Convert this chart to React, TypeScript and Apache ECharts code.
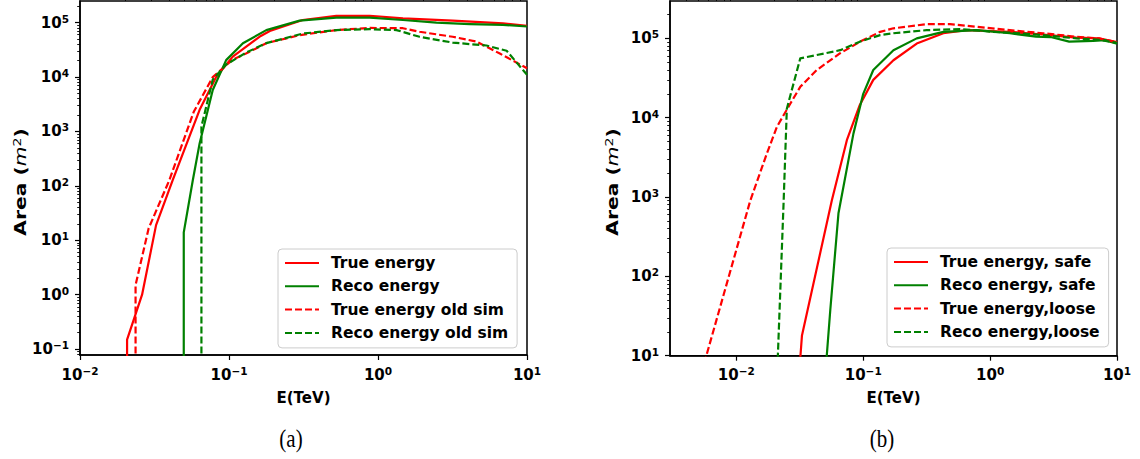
import React, { useEffect, useRef } from "react";
import * as echarts from "echarts";

// ---------- Panel (a) data: [E (TeV), Area (m^2)] ----------
const trueEnergyA: number[][] = [
  [0.0207, 0.01], [0.0207, 0.15], [0.0261, 1.0], [0.0324, 19], [0.0419, 128],
  [0.0635, 2500], [0.082, 1.0e4], [0.106, 2.37e4], [0.16, 5.5e4], [0.188, 7.0e4],
  [0.312, 1.12e5], [0.525, 1.33e5], [0.88, 1.34e5], [1.47, 1.2e5], [3.17, 1.09e5],
  [6.9, 9.7e4], [10, 8.7e4],
];
const recoEnergyA: number[][] = [
  [0.0497, 0.01], [0.0497, 14], [0.0572, 128], [0.0635, 600], [0.0778, 5800],
  [0.0957, 2.05e4], [0.124, 4.18e4], [0.178, 7.3e4], [0.298, 1.09e5], [0.525, 1.24e5],
  [0.88, 1.24e5], [1.47, 1.12e5], [2.47, 1.0e5], [4.13, 9.4e4], [6.9, 9.1e4], [10, 8.5e4],
];
const trueOldA: number[][] = [
  [0.0236, 0.01], [0.0236, 1.5], [0.0289, 16.6], [0.0398, 128], [0.058, 2300],
  [0.0778, 1.0e4], [0.106, 2.1e4], [0.13, 2.7e4], [0.178, 4.2e4], [0.298, 5.9e4],
  [0.525, 7.3e4], [0.88, 8.0e4], [1.47, 7.9e4], [1.9, 6.8e4], [3.17, 5.5e4],
  [4.58, 4.5e4], [6.57, 2.7e4], [10, 1.45e4],
];
const recoOldA: number[][] = [
  [0.0653, 0.01], [0.0653, 1230], [0.0778, 9000], [0.0957, 1.7e4], [0.13, 2.8e4],
  [0.178, 4.2e4], [0.313, 6.3e4], [0.525, 7.3e4], [0.88, 7.6e4], [1.33, 7.3e4],
  [1.9, 5.5e4], [3.17, 4.3e4], [5.35, 3.8e4], [7.3, 3.05e4], [10, 1.1e4],
];

// ---------- Panel (b) data ----------
const trueSafeB: number[][] = [
  [0.031, 5], [0.0329, 18], [0.0566, 910], [0.0743, 5200], [0.094, 1.45e4],
  [0.12, 3.0e4], [0.173, 5.3e4], [0.264, 8.6e4], [0.428, 1.16e5], [0.653, 1.27e5],
  [1.43, 1.21e5], [2.62, 1.12e5], [4.79, 1.02e5], [7.2, 1.0e5], [10, 9.0e4],
];
const recoSafeB: number[][] = [
  [0.0499, 5], [0.055, 37.7], [0.0638, 624], [0.0837, 6300], [0.1, 2.0e4],
  [0.12, 4.0e4], [0.173, 7.1e4], [0.264, 1.0e5], [0.428, 1.21e5], [0.784, 1.27e5],
  [1.43, 1.16e5], [2.3, 1.05e5], [3.0, 1.04e5], [4.2, 9.1e4], [6.5, 9.3e4],
  [8, 9.5e4], [10, 8.6e4],
];
const trueLooseB: number[][] = [
  [0.0056, 8], [0.0059, 11], [0.0129, 910], [0.0174, 3540], [0.0209, 7700],
  [0.0266, 1.5e4], [0.0319, 2.45e4], [0.0431, 4.0e4], [0.0658, 6.5e4], [0.0946, 9.1e4],
  [0.136, 1.21e5], [0.173, 1.34e5], [0.316, 1.51e5], [0.483, 1.51e5], [0.784, 1.4e5],
  [1.43, 1.27e5], [2.62, 1.16e5], [4.79, 1.05e5], [7.2, 1.0e5], [10, 8.9e4],
];
const recoLooseB: number[][] = [
  [0.0209, 5], [0.0236, 900], [0.025, 1.3e4], [0.0319, 5.6e4], [0.0658, 7.1e4],
  [0.094, 9.1e4], [0.136, 1.1e5], [0.173, 1.16e5], [0.316, 1.27e5], [0.58, 1.31e5],
  [1.05, 1.21e5], [1.43, 1.18e5], [2.62, 1.1e5], [4.79, 1.0e5], [7.2, 9.6e4], [10, 8.8e4],
];

// ---------- Names / ticks ----------
const namesA = ["True energy", "Reco energy", "True energy old sim", "Reco energy old sim"];
const namesB = ["True energy, safe", "Reco energy, safe", "True energy,loose", "Reco energy,loose"];
const xMajorA = [0.01, 0.1, 1, 10];
const yMajorA = [0.1, 1, 10, 100, 1000, 1e4, 1e5];
const xMajorB = [0.01, 0.1, 1, 10];
const yMajorB = [10, 100, 1000, 1e4, 1e5];
const rangeXA = [0.01, 10];
const rangeYA = [0.078, 2.5e5];
const rangeXB = [0.003, 10];
const rangeYB = [10, 2.96e5];

const FONT = "'DejaVu Sans', sans-serif";
const RED = "#ff0000";
const GREEN = "#008000";

function minorTicks(lo: number, hi: number): number[] {
  const out: number[] = [];
  for (let k = Math.floor(Math.log10(lo)) - 1; k <= Math.ceil(Math.log10(hi)); k++) {
    for (let m = 2; m <= 9; m++) {
      const v = m * Math.pow(10, k);
      if (v >= lo * 1.0000001 && v <= hi / 1.0000001) out.push(v);
    }
  }
  return out;
}

function decadeLabel(v: number): string {
  const e = Math.round(Math.log10(v));
  const s = e < 0 ? "\u2212" + -e : String(e);
  return `{b|10}{s|${s}}`;
}

const labelRich = {
  b: { fontFamily: FONT, fontWeight: "bold", fontSize: 15, color: "#000", lineHeight: 19 },
  s: { fontFamily: FONT, fontWeight: "bold", fontSize: 10.5, color: "#000", lineHeight: 19, verticalAlign: "top" },
};

const nameRich = {
  b: { fontFamily: FONT, fontWeight: "bold", fontSize: 15, color: "#000", lineHeight: 19 },
  i: { fontFamily: FONT, fontStyle: "italic", fontWeight: "normal", fontSize: 15, color: "#000", lineHeight: 19 },
  s: { fontFamily: FONT, fontStyle: "normal", fontWeight: "normal", fontSize: 10.5, color: "#000", lineHeight: 19, verticalAlign: "top" },
};

function majorX(grid: number, range: number[], ticks: number[]) {
  return {
    type: "log", logBase: 10, gridIndex: grid, min: range[0], max: range[1],
    axisLine: { show: true, onZero: false, lineStyle: { color: "#000", width: 1.5 } },
    axisTick: { show: true, length: 5, lineStyle: { color: "#000", width: 1.2 }, customValues: ticks },
    axisLabel: { customValues: ticks, formatter: decadeLabel, rich: labelRich, margin: 10 },
    minorTick: { show: false }, splitLine: { show: false },
    name: "E(TeV)", nameLocation: "middle", nameGap: 35,
    nameTextStyle: { fontFamily: FONT, fontWeight: "bold", fontSize: 15, color: "#000" },
  };
}
function minorX(grid: number, range: number[]) {
  return {
    type: "log", logBase: 10, gridIndex: grid, min: range[0], max: range[1],
    axisLine: { show: false },
    axisTick: { show: true, length: 2.8, lineStyle: { color: "#000", width: 0.9 }, customValues: minorTicks(range[0], range[1]) },
    axisLabel: { show: false }, splitLine: { show: false }, minorTick: { show: false },
  };
}
function majorY(grid: number, range: number[], ticks: number[]) {
  return {
    type: "log", logBase: 10, gridIndex: grid, min: range[0], max: range[1], position: "left",
    axisLine: { show: true, onZero: false, lineStyle: { color: "#000", width: 1.5 } },
    axisTick: { show: true, length: 5, lineStyle: { color: "#000", width: 1.2 }, customValues: ticks },
    axisLabel: { customValues: ticks, formatter: decadeLabel, rich: labelRich, margin: 11 },
    minorTick: { show: false }, splitLine: { show: false },
  };
}
function minorY(grid: number, range: number[]) {
  return {
    type: "log", logBase: 10, gridIndex: grid, min: range[0], max: range[1], position: "left",
    axisLine: { show: false },
    axisTick: { show: true, length: 2.8, lineStyle: { color: "#000", width: 0.9 }, customValues: minorTicks(range[0], range[1]) },
    axisLabel: { show: false }, splitLine: { show: false }, minorTick: { show: false },
  };
}

function line(name: string, data: number[][], color: string, dashed: boolean, axis: number) {
  return {
    type: "line", name, data, xAxisIndex: axis, yAxisIndex: axis,
    symbol: "none", showSymbol: false, clip: true, smooth: false,
    lineStyle: { color, width: 2.2, type: dashed ? [7, 3] : "solid", cap: "butt", join: "round" },
    itemStyle: { color },
    emphasis: { disabled: true },
    z: 3,
  };
}

function legend(left: number, top: number, names: string[]) {
  return {
    left, top, orient: "vertical", data: names,
    itemWidth: 34, itemHeight: 14, itemGap: 5.3,
    padding: [5, 9, 6, 6],
    borderColor: "#cccccc", borderWidth: 1, borderRadius: 4,
    backgroundColor: "rgba(255,255,255,0.85)",
    selectedMode: false,
    itemStyle: { opacity: 0, borderWidth: 0 },
    textStyle: { fontFamily: FONT, fontWeight: "bold", fontSize: 15.5, color: "#000", lineHeight: 18, padding: [0, 0, 0, 7] },
  };
}

export default function App() {
  const ref = useRef<HTMLDivElement>(null);
  useEffect(() => {
    document.body.style.margin = "0";
    if (!ref.current) return;
    const chart = echarts.init(ref.current, undefined, { renderer: "svg" });
    chart.setOption({
      animation: false,
      backgroundColor: "#fff",
      grid: [
        { left: 80, top: 1, width: 447, height: 354, show: true, borderColor: "#000", borderWidth: 1.5, backgroundColor: "transparent" },
        { left: 670, top: 1, width: 447, height: 354.7, show: true, borderColor: "#000", borderWidth: 1.5, backgroundColor: "transparent" },
      ],
      xAxis: [majorX(0, rangeXA, xMajorA), majorX(1, rangeXB, xMajorB), minorX(0, rangeXA), minorX(1, rangeXB)],
      yAxis: [majorY(0, rangeYA, yMajorA), majorY(1, rangeYB, yMajorB), minorY(0, rangeYA), minorY(1, rangeYB)],
      legend: [legend(278, 249, namesA), legend(887, 248, namesB)],
      series: [
        line(namesA[0], trueEnergyA, RED, false, 0),
        line(namesA[1], recoEnergyA, GREEN, false, 0),
        line(namesA[2], trueOldA, RED, true, 0),
        line(namesA[3], recoOldA, GREEN, true, 0),
        line(namesB[0], trueSafeB, RED, false, 1),
        line(namesB[1], recoSafeB, GREEN, false, 1),
        line(namesB[2], trueLooseB, RED, true, 1),
        line(namesB[3], recoLooseB, GREEN, true, 1),
      ],
      graphic: [
        {
          type: "text", x: 21, y: 182, rotation: Math.PI / 2, scaleX: 1.35,
          style: { text: "{b|Area (}{i|m}{s|2}{b|)}", rich: nameRich, align: "center", verticalAlign: "middle" },
        },
        {
          type: "text", x: 613, y: 182, rotation: Math.PI / 2, scaleX: 1.35,
          style: { text: "{b|Area (}{i|m}{s|2}{b|)}", rich: nameRich, align: "center", verticalAlign: "middle" },
        },
        {
          type: "text", x: 291, y: 438, scaleY: 1.2,
          style: { text: "(a)", fontFamily: "'Liberation Serif', serif", fontSize: 21, fill: "#000", align: "center", verticalAlign: "middle" },
        },
        {
          type: "text", x: 882, y: 438, scaleY: 1.2,
          style: { text: "(b)", fontFamily: "'Liberation Serif', serif", fontSize: 21, fill: "#000", align: "center", verticalAlign: "middle" },
        },
      ],
    });
    return () => chart.dispose();
  }, []);
  return <div ref={ref} style={{ width: 1140, height: 459 }} />;
}
